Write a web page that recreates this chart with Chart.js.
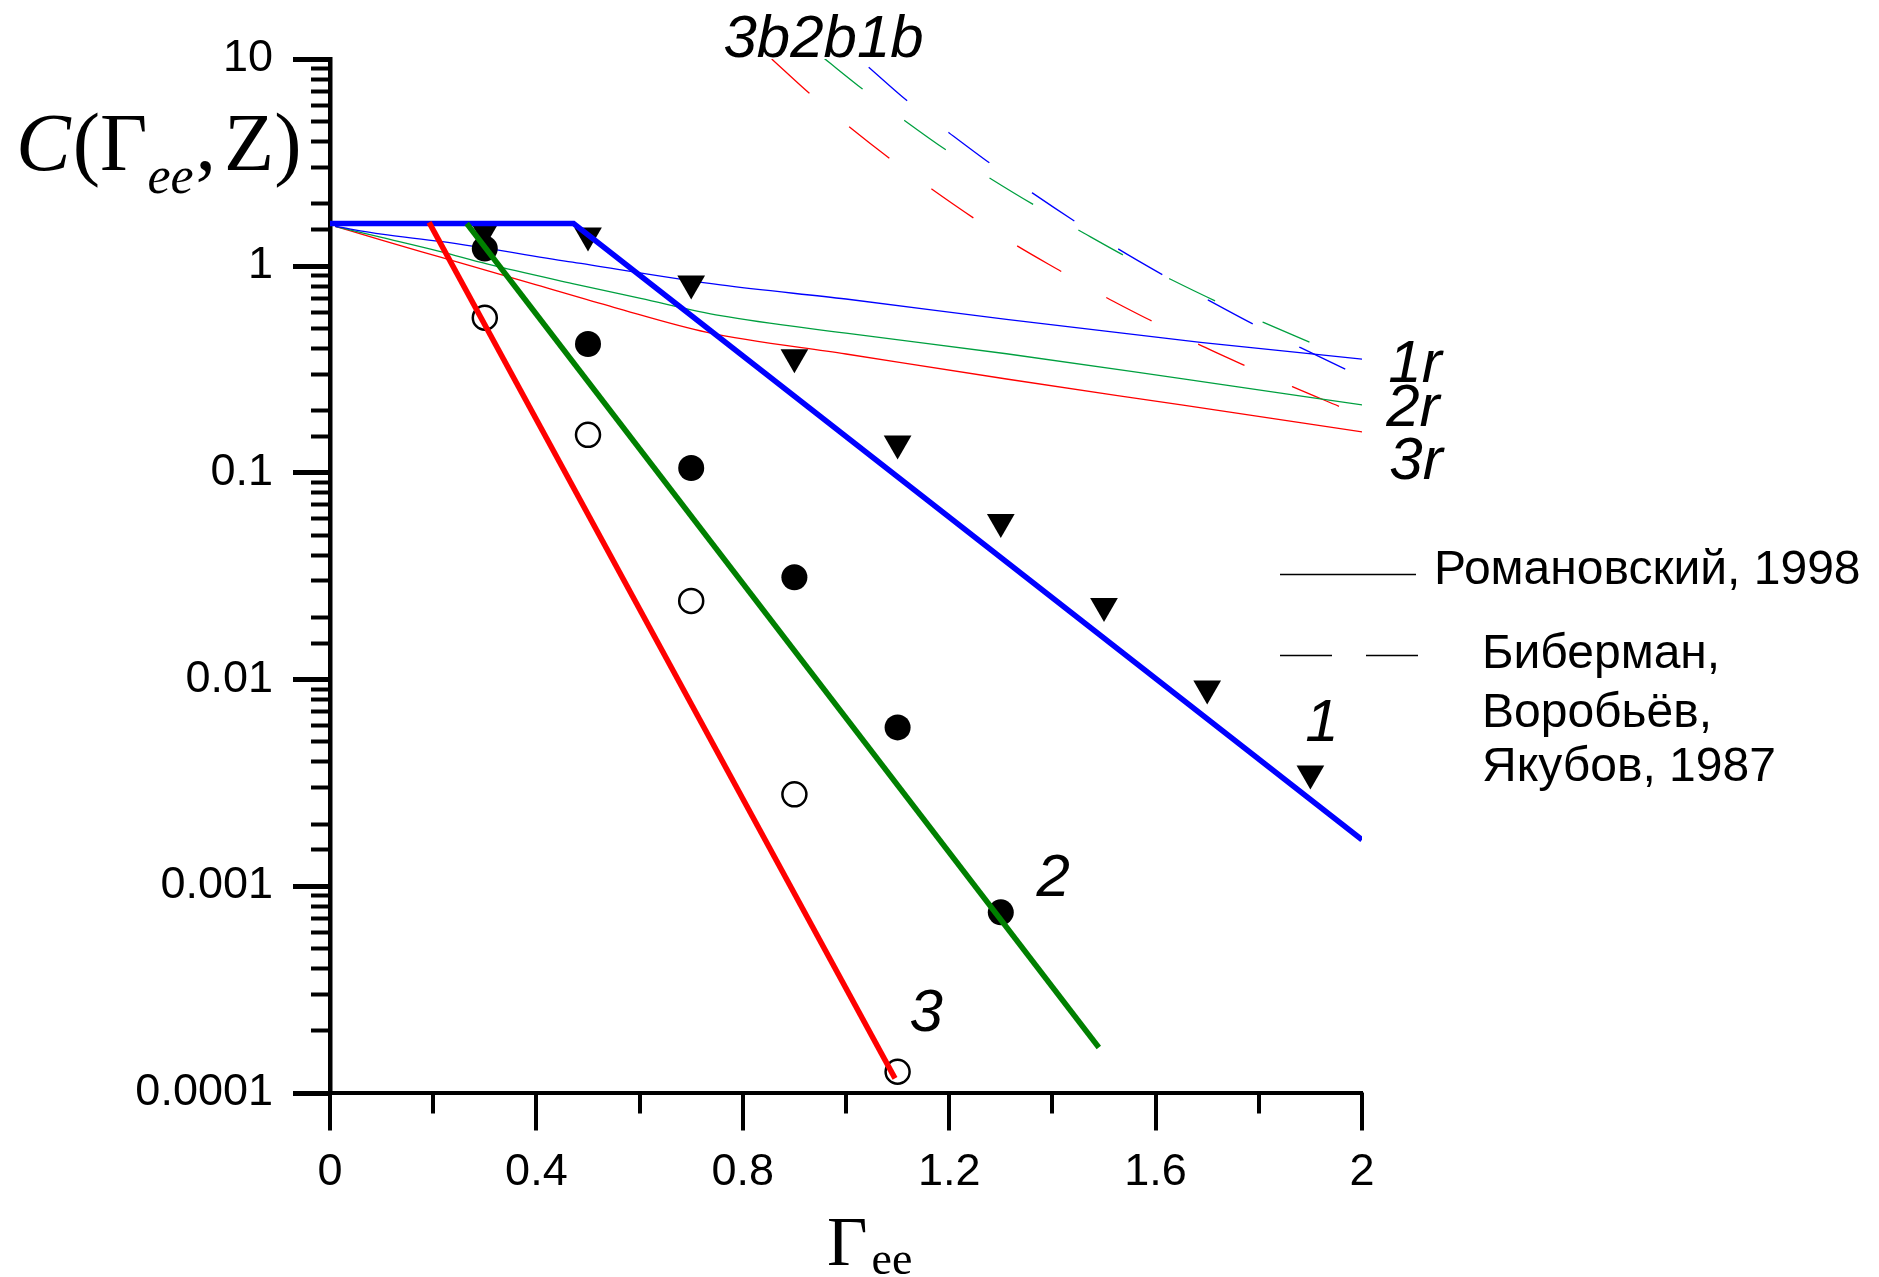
<!DOCTYPE html>
<html>
<head>
<meta charset="utf-8">
<script src="https://cdn.jsdelivr.net/npm/chart.js@4.4.1/dist/chart.umd.min.js"></script>
<style>
  html, body { margin: 0; padding: 0; background: #fff; }
  #wrap { width: 1879px; height: 1277px; position: relative; }
</style>
</head>
<body>
<div id="wrap"><canvas id="chart"></canvas></div>
<script>
// measured C(Γee, Z): 1 - triangles, 2 - filled circles, 3 - open circles
const gammaPoints = [0.3, 0.5, 0.7, 0.9, 1.1, 1.3, 1.5, 1.7, 1.9];
const cPoints1 = [1.47, 1.40, 0.82, 0.361, 0.138, 0.0575, 0.0226, 0.0090, 0.00349];
const cPoints2 = [1.21, 0.418, 0.105, 0.0311, 0.00584, 0.000744];
const cPoints3 = [0.56, 0.152, 0.0239, 0.00277, 0.000126];

// fitted straight lines (thick)
const gammaFit1 = [0, 0.472, 2.0];
const cFit1 = [1.6, 1.6, 0.00167];
const gammaFit2 = [0.265, 1.49];
const cFit2 = [1.6, 0.000165];
const gammaFit3 = [0.192, 1.095];
const cFit3 = [1.62, 0.000117];

// Романовский, 1998 - thin solid curves 1r, 2r, 3r
const gammaR1 = [0.01, 0.1, 0.214, 0.47, 0.757, 1.0, 1.311, 1.687, 2.01];
const cR1 = [1.55, 1.42, 1.31, 1.04, 0.807, 0.69, 0.55, 0.426, 0.351];
const gammaR2 = [0.01, 0.1, 0.214, 0.304, 0.47, 0.602, 0.757, 1.0, 1.311, 1.65, 2.013];
const cR2 = [1.55, 1.37, 1.17, 1.02, 0.82, 0.695, 0.573, 0.472, 0.375, 0.284, 0.21];
const gammaR3 = [0.01, 0.1, 0.214, 0.4, 0.55, 0.731, 1.0, 1.311, 1.65, 2.008];
const cR3 = [1.55, 1.33, 1.10, 0.807, 0.629, 0.476, 0.374, 0.283, 0.212, 0.156];

// Биберман, Воробьёв, Якубов, 1987 - dashed curves 1b, 2b, 3b
const gammaB1 = [1.044, 1.118, 1.2, 1.279, 1.361, 1.445, 1.529, 1.615, 1.704, 1.791, 1.882, 1.971];
const cB1 = [9.12, 6.29, 4.39, 3.13, 2.25, 1.63, 1.20, 0.90, 0.678, 0.519, 0.40, 0.313];
const gammaB2 = [0.955, 1.032, 1.114, 1.196, 1.279, 1.364, 1.452, 1.539, 1.628, 1.717, 1.809, 1.902];
const cB2 = [10.2, 7.16, 5.03, 3.60, 2.65, 1.97, 1.48, 1.12, 0.862, 0.673, 0.532, 0.423];
const gammaB3 = [0.856, 0.929, 1.005, 1.084, 1.166, 1.249, 1.331, 1.420, 1.504, 1.595, 1.682, 1.774, 1.865, 1.957];
const cB3 = [10, 6.82, 4.72, 3.31, 2.35, 1.69, 1.25, 0.929, 0.703, 0.536, 0.418, 0.328, 0.260, 0.208];

// axis ranges and labelled ticks
const xMin = 0, xMax = 2, xStep = 0.2;
const xLabelTicks = [0, 0.4, 0.8, 1.2, 1.6, 2];
const yMin = 0.0001, yMax = 10;
const yLabelTicks = ['0.0001', '0.001', '0.01', '0.1', '1', '10'];

// curve captions placed in data coordinates
const curveLabels = [
  { text: '1r', x: 2.051, y: 0.274 },
  { text: '2r', x: 2.047, y: 0.1676 },
  { text: '3r', x: 2.053, y: 0.0929 },
  { text: '1', x: 1.890, y: 0.00502 },
  { text: '2', x: 1.369, y: 0.000893 },
  { text: '3', x: 1.123, y: 0.000198 },
];
const topLabels = ['3b', '2b', '1b'];
const topLabelAnchor = { x: 0.7626, y: 10.2 };

const SANS = '"Liberation Sans", Arial, sans-serif';
const SERIF = '"Liberation Serif", "Times New Roman", serif';

const BLUE = '#0000ff';
const RED = '#ff0000';
const GREEN = '#008000';
const GREEN_THIN = '#00a040';

function pairs(xs, ys) {
  return xs.map((x, i) => ({ x, y: ys[i] }));
}

function isDecade(v) {
  const e = Math.log10(v);
  return Math.abs(e - Math.round(e)) < 1e-6;
}

function lineSet(label, xs, ys, color, width, dash, smooth) {
  return {
    label,
    data: pairs(xs, ys),
    showLine: true,
    borderColor: color,
    backgroundColor: color,
    borderWidth: width,
    borderDash: dash || [],
    pointRadius: 0,
    tension: 0,
    cubicInterpolationMode: smooth ? 'monotone' : 'default',
    fill: false,
  };
}

function markerSet(label, xs, ys, style) {
  return {
    label,
    data: pairs(xs, ys),
    showLine: false,
    ...style,
  };
}

const datasets = [
  lineSet('fit 3', gammaFit3, cFit3, RED, 5.5),
  lineSet('fit 2', gammaFit2, cFit2, GREEN, 5.5),
  lineSet('fit 1', gammaFit1, cFit1, BLUE, 5.5),
  markerSet('3', gammaPoints.slice(0, cPoints3.length), cPoints3, {
    pointStyle: 'circle', pointRadius: 12, borderWidth: 2.5,
    borderColor: '#000', backgroundColor: '#fff', pointBorderColor: '#000', pointBackgroundColor: '#fff',
  }),
  markerSet('2', gammaPoints.slice(0, cPoints2.length), cPoints2, {
    pointStyle: 'circle', pointRadius: 13, borderWidth: 0,
    pointBackgroundColor: '#000', pointBorderColor: '#000',
  }),
  markerSet('1', gammaPoints, cPoints1, {
    pointStyle: 'triangle', pointRotation: 180, pointRadius: 16, borderWidth: 0,
    pointBackgroundColor: '#000', pointBorderColor: '#000',
  }),
  lineSet('1r', gammaR1, cR1, BLUE, 1.3, null, true),
  lineSet('2r', gammaR2, cR2, GREEN_THIN, 1.3, null, true),
  lineSet('3r', gammaR3, cR3, RED, 1.3, null, true),
  lineSet('1b', gammaB1, cB1, BLUE, 1.3, [51, 52], true),
  lineSet('2b', gammaB2, cB2, GREEN_THIN, 1.3, [51, 52], true),
  lineSet('3b', gammaB3, cB3, RED, 1.3, [51, 52], true),
];

// tick marks outside the plot: long ones at labelled values, short in between
const axisTicks = {
  id: 'axisTicks',
  afterDraw(chart) {
    const { ctx, chartArea } = chart;
    const { x, y } = chart.scales;
    ctx.save();
    ctx.strokeStyle = '#000';
    y.ticks.forEach(t => {
      const py = Math.round(y.getPixelForValue(t.value)) + 0.5;
      const major = isDecade(t.value);
      ctx.lineWidth = major ? 5 : 4;
      ctx.beginPath();
      ctx.moveTo(chartArea.left, py);
      ctx.lineTo(chartArea.left - (major ? 37 : 19), py);
      ctx.stroke();
    });
    x.ticks.forEach(t => {
      const px = Math.round(x.getPixelForValue(t.value));
      const major = Math.round(t.value * 10) % 4 === 0;
      ctx.lineWidth = 4;
      ctx.beginPath();
      ctx.moveTo(px, chartArea.bottom);
      ctx.lineTo(px, chartArea.bottom + (major ? 38 : 21));
      ctx.stroke();
    });
    ctx.restore();
  },
};

function drawRuns(ctx, x, runs) {
  runs.forEach(r => {
    ctx.font = r.font;
    ctx.fillText(r.text, x, r.y);
    x += ctx.measureText(r.text).width + (r.gap || 0);
  });
  return x;
}

// axis titles, curve captions and the legend block
const annotations = {
  id: 'annotations',
  afterDraw(chart) {
    const { ctx } = chart;
    const { x, y } = chart.scales;
    ctx.save();
    ctx.fillStyle = '#000';
    ctx.textBaseline = 'alphabetic';
    ctx.textAlign = 'left';

    // y title: C(Γee, Z)
    drawRuns(ctx, 16, [
      { text: 'C', font: `italic 82px ${SERIF}`, y: 170, gap: 2 },
      { text: '(', font: `82px ${SERIF}`, y: 170 },
      { text: 'Γ', font: `82px ${SERIF}`, y: 170 },
      { text: 'ee', font: `italic 52px ${SERIF}`, y: 193, gap: 2 },
      { text: ',', font: `82px ${SERIF}`, y: 170, gap: 8 },
      { text: 'Z', font: `82px ${SERIF}`, y: 170 },
      { text: ')', font: `82px ${SERIF}`, y: 170 },
    ]);

    // x title: Γee
    drawRuns(ctx, 827, [
      { text: 'Γ', font: `70px ${SERIF}`, y: 1265, gap: 4 },
      { text: 'ee', font: `46px ${SERIF}`, y: 1274 },
    ]);

    // curve captions
    ctx.font = `italic 60px ${SANS}`;
    curveLabels.forEach(l => {
      ctx.fillText(l.text, x.getPixelForValue(l.x), y.getPixelForValue(l.y));
    });
    let tx = x.getPixelForValue(topLabelAnchor.x);
    const ty = y.getPixelForValue(topLabelAnchor.y);
    topLabels.forEach(t => {
      ctx.fillText(t, tx, ty);
      tx += ctx.measureText(t).width;
    });

    // legend
    ctx.strokeStyle = '#000';
    ctx.lineWidth = 1.5;
    ctx.beginPath();
    ctx.moveTo(1280, 574.5);
    ctx.lineTo(1416, 574.5);
    ctx.stroke();
    ctx.setLineDash([52, 34]);
    ctx.beginPath();
    ctx.moveTo(1280, 655.5);
    ctx.lineTo(1418, 655.5);
    ctx.stroke();
    ctx.setLineDash([]);
    ctx.font = `48px ${SANS}`;
    ctx.fillText('Романовский, 1998', 1434, 584);
    ctx.fillText('Биберман,', 1482, 668);
    ctx.fillText('Воробьёв,', 1482, 727);
    ctx.fillText('Якубов, 1987', 1482, 781);
    ctx.restore();
  },
};

new Chart(document.getElementById('chart'), {
  type: 'scatter',
  data: { datasets },
  options: {
    responsive: true,
    maintainAspectRatio: false,
    animation: false,
    devicePixelRatio: 1,
    layout: { padding: { left: 0, top: 59, right: 517, bottom: 0 } },
    plugins: {
      legend: { display: false },
      tooltip: { enabled: false },
    },
    scales: {
      x: {
        type: 'linear',
        position: 'bottom',
        min: xMin,
        max: xMax,
        afterFit(scale) {
          scale.height = 184.5;
          scale.paddingLeft = 0;
          scale.paddingRight = 0;
        },
        grid: { display: false, drawTicks: false },
        border: { display: true, color: '#000', width: 4 },
        ticks: {
          stepSize: xStep,
          autoSkip: false,
          maxRotation: 0,
          padding: 53,
          color: '#000',
          font: { family: SANS, size: 45 },
          callback: v => {
            const hit = xLabelTicks.find(t => Math.abs(t - v) < 1e-6);
            return hit === undefined ? '' : String(hit);
          },
        },
      },
      y: {
        type: 'logarithmic',
        position: 'left',
        min: yMin,
        max: yMax,
        afterFit(scale) {
          scale.width = 330;
          scale.paddingTop = 0;
          scale.paddingBottom = 0;
        },
        grid: { display: false, drawTicks: false },
        border: { display: true, color: '#000', width: 4.5 },
        ticks: {
          autoSkip: false,
          padding: 57,
          color: '#000',
          font: { family: SANS, size: 45 },
          callback: v => {
            if (!isDecade(v)) return '';
            return yLabelTicks[Math.round(Math.log10(v)) + 4];
          },
        },
      },
    },
  },
  plugins: [axisTicks, annotations],
});
</script>
</body>
</html>
